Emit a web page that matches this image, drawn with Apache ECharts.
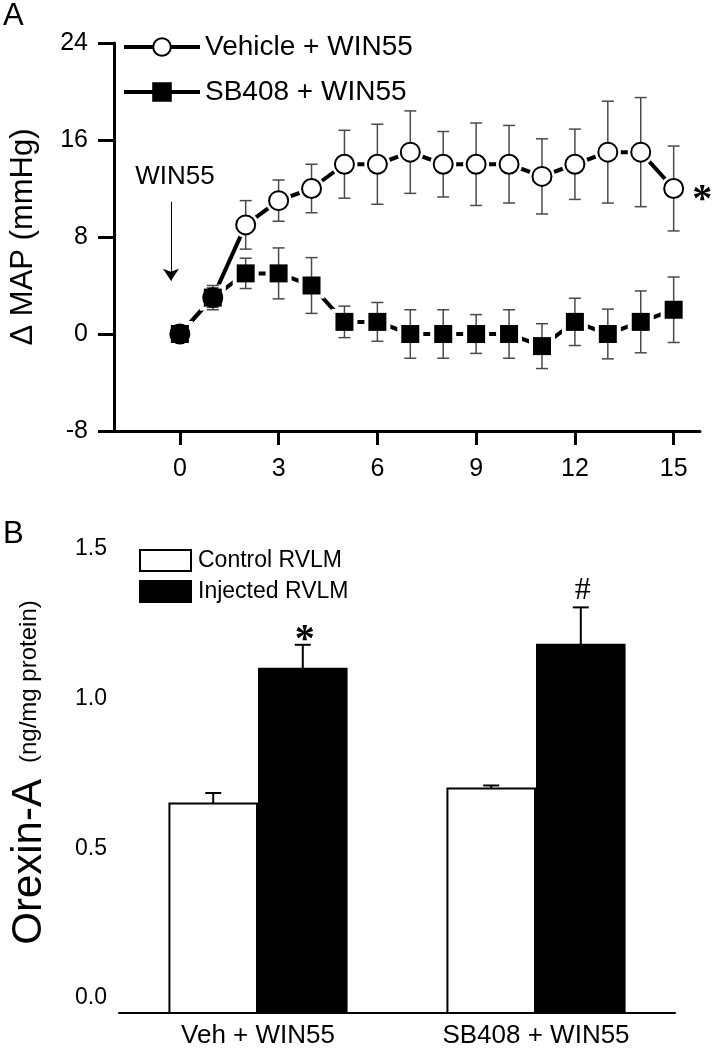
<!DOCTYPE html>
<html>
<head>
<meta charset="utf-8">
<script src="https://cdn.jsdelivr.net/npm/echarts@6/dist/echarts.min.js"></script>
<style>html,body{margin:0;padding:0;background:#fff}#c{width:712px;height:1050px}</style>
</head>
<body>
<div id="c"></div>
<script>
// ---------- Panel A data ----------
const timeMin     = [0, 1, 2, 3, 4, 5, 6, 7, 8, 9, 10, 11, 12, 13, 14, 15];
const vehicleMean = [0, 3, 9, 11, 12, 14, 14, 15, 14, 14, 14, 13, 14, 15, 15, 12];
const vehicleErr  = [0, 1, 2, 1.7, 2, 2.8, 3.3, 3.4, 2.7, 3.4, 3.2, 3.1, 2.9, 4.2, 4.5, 3.5];
const sb408Mean   = [0, 3, 5, 5, 4, 1, 1, 0, 0, 0, 0, -1, 1, 0, 1, 2];
const sb408Err    = [0, 0.8, 1.25, 2.1, 2.3, 1.3, 1.6, 2, 2, 1.6, 2, 1.85, 1.95, 2.05, 2.55, 2.7];
const xTicksA     = [0, 3, 6, 9, 12, 15];
const seriesNamesA = ['Vehicle + WIN55', 'SB408 + WIN55'];
const sigIndexA   = 15;           // '*' beside last vehicle point
const injectTime  = [-0.27];      // arrow position (min)
const arrowRange  = [10.9, 4.4];  // arrow from / to (mmHg)
const injectLabel = ['WIN55', -0.15, 13.0];

// ---------- Panel B data ----------
const categoriesB  = ['Veh + WIN55', 'SB408 + WIN55'];
const controlMean  = [0.65, 0.70];
const controlErr   = [0.035, 0.01];
const injectedMean = [1.10, 1.18];
const injectedErr  = [0.08, 0.125];
const sigB         = ['*', '#'];
const yTicksB      = [0, 0.5, 1.0, 1.5];
const seriesNamesB = ['Control RVLM', 'Injected RVLM'];

const FONT = 'Liberation Sans, Arial, Helvetica, sans-serif';
const SERIF = 'Liberation Serif, Times New Roman, serif';
const yMinB = -0.05;

function errBarA(params, api) {
  const x = api.value(0), y = api.value(1), e = api.value(2);
  if (!e) return null;
  const t = api.coord([x, y + e]), b = api.coord([x, y - e]);
  const hw = 6;
  const st = { stroke: '#4a4a4a', lineWidth: 1.5 };
  return { type: 'group', children: [
    { type: 'line', shape: { x1: t[0], y1: t[1], x2: b[0], y2: b[1] }, style: st },
    { type: 'line', shape: { x1: t[0] - hw, y1: t[1], x2: t[0] + hw, y2: t[1] }, style: st },
    { type: 'line', shape: { x1: b[0] - hw, y1: b[1], x2: b[0] + hw, y2: b[1] }, style: st }
  ]};
}

function barB(side, fill, withSig) {
  return function (params, api) {
    const idx = api.value(0), v = api.value(1), e = api.value(2);
    const top = api.coord([idx, v]);
    const base = api.coord([idx, yMinB]);
    const errTop = api.coord([idx, v + e]);
    const bw = api.size([1, 0])[0] * 0.315;
    const x0 = side < 0 ? top[0] - bw - 1 : top[0] + 1;
    const cx = x0 + bw / 2;
    const children = [
      { type: 'line', shape: { x1: cx, y1: top[1], x2: cx, y2: errTop[1] }, style: { stroke: '#000', lineWidth: 2 } },
      { type: 'line', shape: { x1: cx - 8, y1: errTop[1], x2: cx + 8, y2: errTop[1] }, style: { stroke: '#000', lineWidth: 2 } },
      { type: 'rect', shape: { x: x0, y: top[1], width: bw, height: base[1] - top[1] }, style: { fill: fill, stroke: '#000', lineWidth: 2 } }
    ];
    if (withSig) {
      const s = sigB[params.dataIndex];
      children.push({ type: 'text', x: cx + 2, y: errTop[1] + (s === '*' ? 16 : -1),
        style: { text: s, fill: '#000', align: 'center', verticalAlign: 'bottom',
          font: (s === '*' ? 'bold 40px ' : '32px ') + SERIF } });
    }
    return { type: 'group', children: children };
  };
}

const vehPts = timeMin.map((t, i) => [t, vehicleMean[i]]);
const sbPts  = timeMin.map((t, i) => [t, sb408Mean[i]]);

const option = {
  backgroundColor: '#fff',
  animation: false,
  textStyle: { fontFamily: FONT, color: '#000' },
  graphic: [
    { type: 'text', left: 3, top: 1, style: { text: 'A', font: '31px ' + FONT, fill: '#000' } },
    { type: 'text', left: 3, top: 519, style: { text: 'B', font: '31px ' + FONT, fill: '#000' } }
  ],
  legend: [
    { data: seriesNamesA, orient: 'vertical', left: 122, top: 33, padding: 0,
      itemWidth: 76, itemHeight: 22, itemGap: 17, selectedMode: false,
      lineStyle: { width: 4, color: '#000', type: 'solid', opacity: 1 },
      itemStyle: { borderWidth: 2, borderColor: '#000' },
      textStyle: { fontSize: 28, fontFamily: FONT, color: '#000' } },
    { data: [
        { name: seriesNamesB[0], icon: 'rect', itemStyle: { color: '#fff', borderColor: '#000', borderWidth: 2 } },
        { name: seriesNamesB[1], icon: 'rect', itemStyle: { color: '#000', borderColor: '#000', borderWidth: 2 } }
      ], orient: 'vertical', left: 139, top: 549, padding: 0, itemWidth: 51, itemHeight: 21, itemGap: 8,
      selectedMode: false,
      textStyle: { fontSize: 23, fontFamily: FONT, color: '#000', padding: [0, 0, 0, 2] } }
  ],
  grid: [
    { left: 103, top: 43, width: 597, height: 388 },
    { left: 103, top: 549, width: 572, height: 464 }
  ],
  xAxis: [
    { gridIndex: 0, type: 'value', min: -2, max: 15.8,
      axisLine: { onZero: false, lineStyle: { color: '#000', width: 3 } },
      axisTick: { customValues: xTicksA, length: 14, lineStyle: { color: '#000', width: 3 } },
      axisLabel: { customValues: xTicksA, margin: 26, fontSize: 25, color: '#000', fontFamily: FONT },
      splitLine: { show: false } },
    { gridIndex: 1, type: 'category', data: categoriesB,
      axisLine: { onZero: false, lineStyle: { color: '#000', width: 2 } },
      axisTick: { show: false },
      axisLabel: { margin: 10, fontSize: 26, color: '#000', fontFamily: FONT },
      splitLine: { show: false } }
  ],
  yAxis: [
    { gridIndex: 0, type: 'value', min: -8, max: 24, interval: 8,
      name: 'Δ MAP (mmHg)', nameLocation: 'middle', nameRotate: 90, nameGap: 75,
      nameTextStyle: { fontSize: 31, color: '#000', fontFamily: FONT },
      axisLine: { onZero: false, lineStyle: { color: '#000', width: 3 } },
      axisTick: { length: 16, lineStyle: { color: '#000', width: 3 } },
      axisLabel: { margin: 26, fontSize: 25, color: '#000', fontFamily: FONT },
      splitLine: { show: false } },
    { gridIndex: 1, type: 'value', min: yMinB, max: 1.5,
      name: '{a|Orexin-A}{b|(ng/mg protein)}', nameLocation: 'middle', nameRotate: 90, nameGap: 69,
      nameTextStyle: { color: '#000', fontFamily: FONT, padding: [0, 0, 0, 17], rich: {
        a: { fontSize: 42, fontFamily: FONT, color: '#000', verticalAlign: 'middle' },
        b: { fontSize: 24, fontFamily: FONT, color: '#000', verticalAlign: 'middle', padding: [0, 0, 0, 16] } } },
      axisLine: { onZero: false, lineStyle: { color: '#000', width: 2 } },
      axisTick: { customValues: yTicksB, inside: true, length: 11, lineStyle: { color: '#000', width: 2 } },
      axisLabel: { customValues: yTicksB, margin: 12, fontSize: 23, color: '#000', fontFamily: FONT,
        formatter: v => v.toFixed(1) },
      splitLine: { show: false } }
  ],
  series: [
    { name: seriesNamesA[0], type: 'line', xAxisIndex: 0, yAxisIndex: 0, z: 2, data: vehPts,
      symbol: 'circle', symbolSize: 19, showSymbol: true,
      lineStyle: { color: '#000', width: 4 },
      itemStyle: { color: '#fff', borderColor: '#000', borderWidth: 2 },
      markLine: { silent: true, symbol: ['none', 'arrow'], symbolSize: 12,
        label: { show: false }, lineStyle: { color: '#000', width: 1, type: 'solid' },
        data: [[{ coord: [injectTime[0], arrowRange[0]] }, { coord: [injectTime[0], arrowRange[1]] }]] },
      markPoint: { silent: true, symbol: 'circle', symbolSize: 1, itemStyle: { color: 'rgba(0,0,0,0)' },
        label: { show: true, position: 'inside', formatter: injectLabel[0], fontSize: 26, color: '#000', fontFamily: FONT },
        data: [{ coord: [injectLabel[1], injectLabel[2]] }] } },
    { name: seriesNamesA[1], type: 'line', xAxisIndex: 0, yAxisIndex: 0, z: 2, data: sbPts,
      symbol: 'rect', symbolSize: 18, showSymbol: true,
      lineStyle: { color: '#000', width: 4 },
      itemStyle: { color: '#000', borderColor: '#000', borderWidth: 1 } },
    // white gaps around markers
    { type: 'scatter', xAxisIndex: 0, yAxisIndex: 0, z: 3, data: vehPts, symbol: 'circle', symbolSize: 26,
      itemStyle: { color: '#fff', opacity: 1 }, silent: true },
    { type: 'scatter', xAxisIndex: 0, yAxisIndex: 0, z: 3, data: sbPts, symbol: 'rect', symbolSize: 26,
      itemStyle: { color: '#fff', opacity: 1 }, silent: true },
    // error bars
    { type: 'custom', xAxisIndex: 0, yAxisIndex: 0, z: 4, renderItem: errBarA, encode: { x: 0, y: 1 },
      data: timeMin.map((t, i) => [t, vehicleMean[i], vehicleErr[i]]), silent: true },
    { type: 'custom', xAxisIndex: 0, yAxisIndex: 0, z: 4, renderItem: errBarA, encode: { x: 0, y: 1 },
      data: timeMin.map((t, i) => [t, sb408Mean[i], sb408Err[i]]), silent: true },
    // markers
    { type: 'scatter', xAxisIndex: 0, yAxisIndex: 0, z: 5, data: vehPts, symbol: 'circle', symbolSize: 19,
      itemStyle: { color: '#fff', borderColor: '#000', borderWidth: 2, opacity: 1 }, silent: true,
      label: { show: true, position: 'right', distance: 8, offset: [0, 12],
        formatter: p => (p.dataIndex === sigIndexA ? '*' : ''), fontSize: 40, fontWeight: 'bold',
        fontFamily: SERIF, color: '#000' } },
    { type: 'scatter', xAxisIndex: 0, yAxisIndex: 0, z: 6, data: sbPts, symbol: 'rect', symbolSize: 18,
      itemStyle: { color: '#000', opacity: 1 }, silent: true },
    // Panel B bars
    { name: seriesNamesB[0], type: 'custom', xAxisIndex: 1, yAxisIndex: 1, renderItem: barB(-1, '#fff', false),
      encode: { x: 0, y: 1 }, itemStyle: { color: '#fff', borderColor: '#000' },
      data: categoriesB.map((c, i) => [i, controlMean[i], controlErr[i]]) },
    { name: seriesNamesB[1], type: 'custom', xAxisIndex: 1, yAxisIndex: 1, renderItem: barB(1, '#000', true),
      encode: { x: 0, y: 1 }, itemStyle: { color: '#000', borderColor: '#000' },
      data: categoriesB.map((c, i) => [i, injectedMean[i], injectedErr[i]]) }
  ]
};

const chart = echarts.init(document.getElementById('c'), null, { renderer: 'canvas' });
chart.setOption(option);
</script>
</body>
</html>
